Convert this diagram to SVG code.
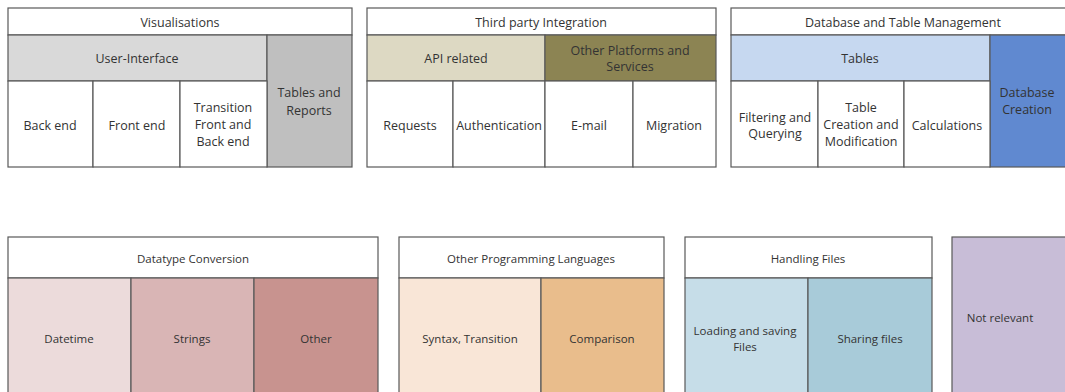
<svg xmlns="http://www.w3.org/2000/svg" width="1065" height="392" viewBox="0 0 1065 392">
<style>
rect{stroke:#595959;stroke-width:1.2}
text{font-family:"Open Sans","Noto Sans",sans-serif;fill:#333333;text-anchor:middle;dominant-baseline:central}
.t{font-size:12.5px}
.b{font-size:11.5px}
</style>
<rect x="0" y="0" width="1065" height="392" fill="#ffffff" style="stroke:none"/>
<g id="visualisations">
<rect x="8" y="8" width="344" height="27" fill="#ffffff"/>
<rect x="8" y="35" width="259" height="46" fill="#d9d9d9"/>
<rect x="267" y="35" width="85" height="132" fill="#bfbfbf"/>
<rect x="8" y="81" width="85" height="86" fill="#ffffff"/>
<rect x="93" y="81" width="87" height="86" fill="#ffffff"/>
<rect x="180" y="81" width="87" height="86" fill="#ffffff"/>
<text class="t" x="180" y="22">Visualisations</text>
<text class="t" x="137" y="58">User-Interface</text>
<text class="t" x="50" y="125">Back end</text>
<text class="t" x="137" y="125">Front end</text>
<text class="t" x="223" y="107">Transition</text>
<text class="t" x="223" y="124">Front and</text>
<text class="t" x="223" y="141">Back end</text>
<text class="t" x="309" y="92">Tables and</text>
<text class="t" x="309" y="110">Reports</text>
</g>
<g id="third-party">
<rect x="367" y="8" width="349" height="27" fill="#ffffff"/>
<rect x="367" y="35" width="178" height="46" fill="#ddd9c3"/>
<rect x="545" y="35" width="171" height="46" fill="#8c8453"/>
<rect x="367" y="81" width="86" height="86" fill="#ffffff"/>
<rect x="453" y="81" width="92" height="86" fill="#ffffff"/>
<rect x="545" y="81" width="88" height="86" fill="#ffffff"/>
<rect x="633" y="81" width="83" height="86" fill="#ffffff"/>
<text class="t" x="541" y="22">Third party Integration</text>
<text class="t" x="456" y="58">API related</text>
<text class="t" x="630" y="50">Other Platforms and</text>
<text class="t" x="630" y="66">Services</text>
<text class="t" x="410" y="125">Requests</text>
<text class="t" x="499" y="125">Authentication</text>
<text class="t" x="589" y="125">E-mail</text>
<text class="t" x="674" y="125">Migration</text>
</g>
<g id="database">
<rect x="731" y="8" width="340" height="27" fill="#ffffff"/>
<rect x="731" y="35" width="259" height="46" fill="#c6d8f0"/>
<rect x="990" y="35" width="81" height="132" fill="#6089d0"/>
<rect x="731" y="81" width="87" height="86" fill="#ffffff"/>
<rect x="818" y="81" width="86" height="86" fill="#ffffff"/>
<rect x="904" y="81" width="86" height="86" fill="#ffffff"/>
<text class="t" x="903" y="22">Database and Table  Management</text>
<text class="t" x="860" y="58">Tables</text>
<text class="t" x="775" y="117">Filtering and</text>
<text class="t" x="775" y="133">Querying</text>
<text class="t" x="861" y="107">Table</text>
<text class="t" x="861" y="124">Creation and</text>
<text class="t" x="861" y="141">Modification</text>
<text class="t" x="947" y="125">Calculations</text>
<text class="t" x="1027" y="92">Database</text>
<text class="t" x="1027" y="109">Creation</text>
</g>
<g id="datatype-conversion">
<rect x="8" y="237" width="370" height="41" fill="#ffffff"/>
<rect x="8" y="278" width="123" height="120" fill="#ecdbdb"/>
<rect x="131" y="278" width="123" height="120" fill="#d9b5b5"/>
<rect x="254" y="278" width="124" height="120" fill="#c8938f"/>
<text class="b" x="193" y="258">Datatype Conversion</text>
<text class="b" x="69" y="338">Datetime</text>
<text class="b" x="192" y="338">Strings</text>
<text class="b" x="316" y="338">Other</text>
</g>
<g id="other-languages">
<rect x="399" y="237" width="265" height="41" fill="#ffffff"/>
<rect x="399" y="278" width="142" height="120" fill="#f9e6d7"/>
<rect x="541" y="278" width="123" height="120" fill="#e9bd8c"/>
<text class="b" x="531" y="258">Other Programming Languages</text>
<text class="b" x="470" y="338">Syntax, Transition</text>
<text class="b" x="602" y="338">Comparison</text>
</g>
<g id="handling-files">
<rect x="685" y="237" width="247" height="41" fill="#ffffff"/>
<rect x="685" y="278" width="123" height="120" fill="#c6dde8"/>
<rect x="808" y="278" width="124" height="120" fill="#a8cbd9"/>
<text class="b" x="808" y="258">Handling Files</text>
<text class="b" x="745" y="330">Loading and saving</text>
<text class="b" x="745" y="346">Files</text>
<text class="b" x="870" y="338">Sharing files</text>
</g>
<g id="not-relevant">
<rect x="952" y="237" width="120" height="161" fill="#c8bdd7"/>
<text class="b" x="1000" y="317">Not relevant</text>
</g>
<g id="connectors"></g>
</svg>
